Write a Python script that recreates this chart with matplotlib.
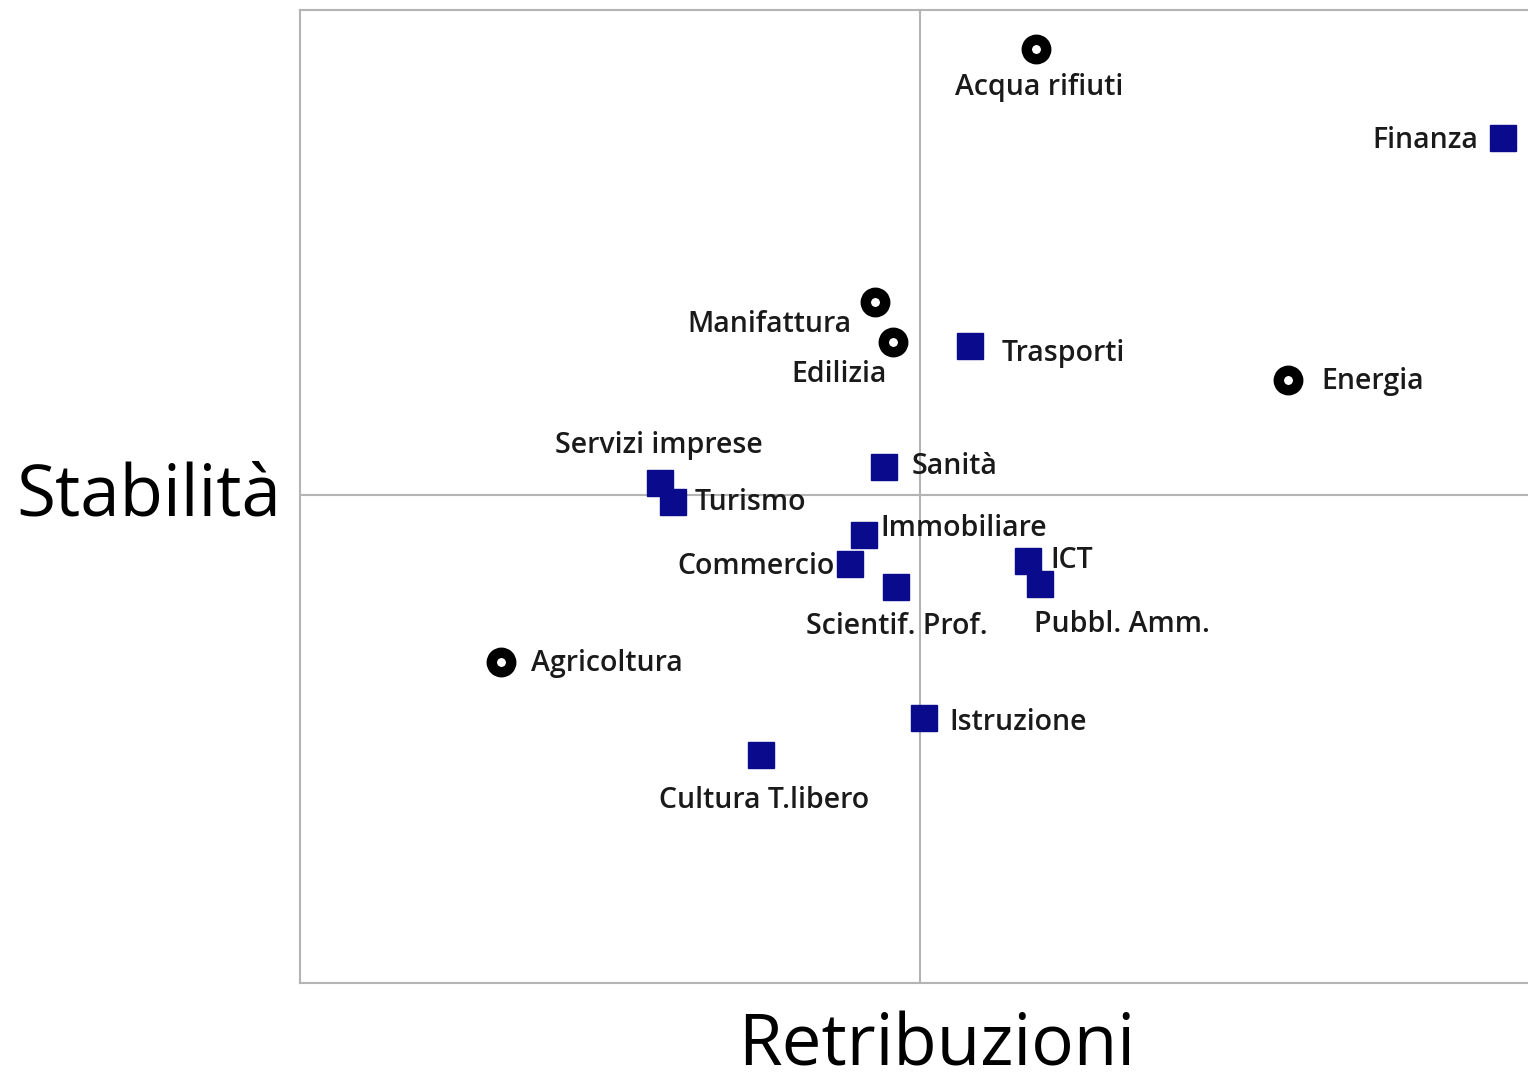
import matplotlib
matplotlib.use('Agg')
import matplotlib.pyplot as plt

# settori: retribuzioni (x) e stabilità (y), scala relativa alla media
settori = ['Acqua rifiuti', 'Finanza', 'Manifattura', 'Edilizia', 'Trasporti',
           'Energia', 'Sanità', 'Servizi imprese', 'Turismo', 'Immobiliare',
           'Commercio', 'Scientif. Prof.', 'ICT', 'Pubbl. Amm.', 'Agricoltura',
           'Istruzione', 'Cultura T.libero']
retribuzioni = [1.16, 5.83, -0.45, -0.27, 0.50, 3.68, -0.36, -2.60, -2.47, -0.56,
                -0.70, -0.24, 1.08, 1.20, -4.19, 0.04, -1.59]
stabilita = [4.46, 3.57, 1.93, 1.53, 1.49, 1.15, 0.28, 0.12, -0.07, -0.40,
             -0.69, -0.92, -0.66, -0.89, -1.67, -2.23, -2.60]
gruppo = ['c', 's', 'c', 'c', 's', 'c', 's', 's', 's', 's',
          's', 's', 's', 's', 'c', 's', 's']

# posizione delle etichette (offset in pixel, allineamento)
offset = {
    'Acqua rifiuti': (3, -39, 'center'),
    'Finanza': (-25, -3, 'right'),
    'Manifattura': (-24, -23, 'right'),
    'Edilizia': (-6, -32, 'right'),
    'Trasporti': (32, -8, 'left'),
    'Energia': (33, -2, 'left'),
    'Sanità': (28, 1, 'left'),
    'Servizi imprese': (-1, 38, 'center'),
    'Turismo': (22, -1, 'left'),
    'Immobiliare': (16, 6, 'left'),
    'Commercio': (-15, -3, 'right'),
    'Scientif. Prof.': (1, -39, 'center'),
    'ICT': (22, 0, 'left'),
    'Pubbl. Amm.': (-6, -40, 'left'),
    'Agricoltura': (30, -2, 'left'),
    'Istruzione': (25, -4, 'left'),
    'Cultura T.libero': (3, -46, 'center'),
}

plt.rcParams['font.family'] = ['Open Sans', 'DejaVu Sans']

fig = plt.figure(figsize=(15.28, 10.81), dpi=100)
ax = fig.add_axes([300/1528, 98/1081, 1240/1528, 973/1081])

ax.axhline(0, color='#b4b4b4', lw=1.5, zorder=1)
ax.axvline(0, color='#b4b4b4', lw=1.5, zorder=1)

for nome, x, y, g in zip(settori, retribuzioni, stabilita, gruppo):
    if g == 's':
        ax.plot(x, y, marker='s', ms=18.5, color='#0a0a8c', mec='#0a0a8c', zorder=3)
    else:
        ax.plot(x, y, marker='o', ms=14, mfc='white', mec='black', mew=7.5, zorder=3)
    dx, dy, ha = offset[nome]
    ax.annotate(nome, (x, y), xytext=(dx * 0.72, dy * 0.72), textcoords='offset points',
                ha=ha, va='center', fontsize=20.5, fontweight='semibold', color='#1a1a1a')

ax.set_xlim(-6.2, 6.2)
ax.set_ylim(-4.88, 4.85)
ax.set_xticks([])
ax.set_yticks([])
for s in ax.spines.values():
    s.set_color('#b4b4b4')
    s.set_linewidth(1.5)
ax.spines['right'].set_visible(False)

fig.text(149/1528, 1 - 497/1081, 'Stabilità', ha='center', va='center', fontsize=51)
fig.text(937/1528, 1 - 1047/1081, 'Retribuzioni', ha='center', va='center', fontsize=51)

fig.savefig('out.png', dpi=100)
